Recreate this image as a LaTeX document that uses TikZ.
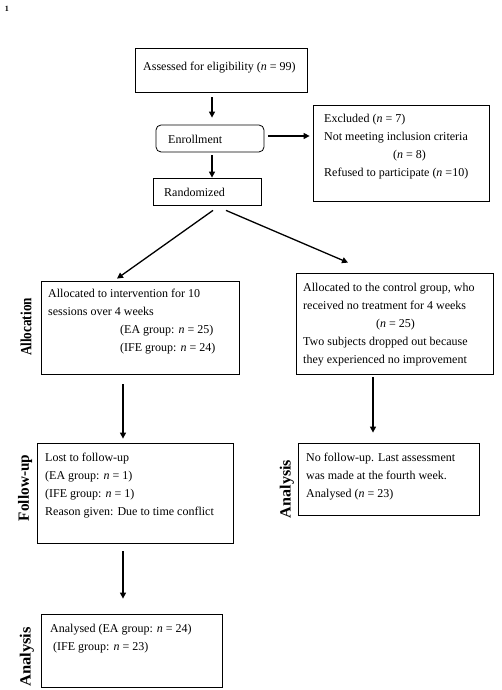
\documentclass[tikz,border=0pt]{standalone}
\usepackage{fontspec}
\setmainfont{Liberation Serif}
\usetikzlibrary{arrows.meta}
\tikzset{
  box/.style={draw, line width=0.8pt, inner sep=0pt, minimum width=#1},
  txt/.style={anchor=north west, inner sep=0pt, align=left, font=\fontsize{12}{18}\selectfont},
  arr/.style={line width=1.3pt, -{Triangle[length=6pt,width=6pt]}},
  side/.style={rotate=90, inner sep=0pt, font=\fontsize{12}{14}\selectfont\bfseries}
}
\begin{document}
\begin{tikzpicture}[x=1pt,y=1pt]
\useasboundingbox (0,0) rectangle (502,690);
\node[font=\fontsize{8}{9}\selectfont\bfseries] (num) at (7,681.5) {1};
% boxes
\node[box=172pt, minimum height=44pt] (assess) at (221,620) {};
\node[box=108pt, minimum height=27pt, rounded corners=5pt] (enroll) at (210,551.5) {};
\node[box=108pt, minimum height=27pt] (random) at (207,498.5) {};
\node[box=176pt, minimum height=96pt] (excl) at (401,537) {};
\node[box=198pt, minimum height=93pt] (allocL) at (140,362.5) {};
\node[box=197pt, minimum height=101pt] (allocR) at (394.5,366.5) {};
\node[box=196pt, minimum height=100pt] (follow) at (135,197) {};
\node[box=181pt, minimum height=72pt] (anaR) at (388.5,211) {};
\node[box=181pt, minimum height=73pt] (anaL) at (131.5,39.5) {};
% texts
\node[txt] (tassess) at (143,632.6) {\strut Assessed for eligibility (\textit{n} = 99)};
\node[txt] (tenroll) at (168,559.6) {\strut Enrollment};
\node[txt] (trandom) at (164,506.6) {\strut Randomized};
\node[txt] (texcl) at (324,580.6) {\strut Excluded (\textit{n} = 7)\\
  Not meeting inclusion criteria\\
  \hspace*{69pt}(\textit{n} = 8)\\
  Refused to participate (\textit{n} =10)};
\node[txt] (tallocL) at (48,405.6) {\strut Allocated to intervention for 10\\
  sessions over 4 weeks\\
  \hspace*{72pt}(EA group: \textit{n} = 25)\\
  \hspace*{72pt}(IFE group: \textit{n} = 24)};
\node[txt] (tallocR) at (303,411.6) {\strut Allocated to the control group, who\\
  received no treatment for 4 weeks\\
  \hspace*{73pt}(\textit{n} = 25)\\
  Two subjects dropped out because\\
  they experienced no improvement};
\node[txt] (tfollow) at (45,241.6) {\strut Lost to follow-up\\
  (EA group: \textit{n} = 1)\\
  (IFE group: \textit{n} = 1)\\
  Reason given: Due to time conflict};
\node[txt] (tanaR) at (306,241.6) {\strut No follow-up. Last assessment\\
  was made at the fourth week.\\
  Analysed (\textit{n} = 23)};
\node[txt] (tanaL) at (50,70.6) {\strut Analysed (EA group: \textit{n} = 24)\\
  \hspace*{3pt}(IFE group: \textit{n} = 23)};
% side labels
\node[side] (lalloc) at (26,363) {\scalebox{1.1}[1.3]{Allocation}};
\node[side] (lfollow) at (25,202) {\scalebox{1.27}[1.3]{Follow-up}};
\node[side] (lanaR) at (287,201) {\scalebox{1.34}[1.3]{Analysis}};
\node[side] (lanaL) at (27,33) {\scalebox{1.38}[1.3]{Analysis}};
% arrows
\draw[arr] ([xshift=-9pt,yshift=-5pt]assess.south) -- ([xshift=2pt,yshift=7pt]enroll.north);
\draw[arr] ([xshift=4pt,yshift=2.5pt]enroll.east) -- ([xshift=-3pt,yshift=17pt]excl.west);
\draw[arr] ([xshift=2pt,yshift=-3pt]enroll.south) -- ([xshift=5pt]random.north);
\draw[arr] ([xshift=6pt,yshift=-5pt]random.south) -- ([xshift=-23pt,yshift=2pt]allocL.north);
\draw[arr] ([xshift=19pt,yshift=-5pt]random.south) -- ([xshift=-46.5pt,yshift=10pt]allocR.north);
\draw[arr] ([xshift=-17pt,yshift=-10pt]allocL.south) -- ([xshift=-12pt,yshift=4pt]follow.north);
\draw[arr] ([xshift=-21.5pt,yshift=-3pt]allocR.south) -- ([xshift=-15.5pt,yshift=10pt]anaR.north);
\draw[arr] ([xshift=-12pt,yshift=-8pt]follow.south) -- ([xshift=-8.5pt,yshift=15pt]anaL.north);
\end{tikzpicture}
\end{document}
